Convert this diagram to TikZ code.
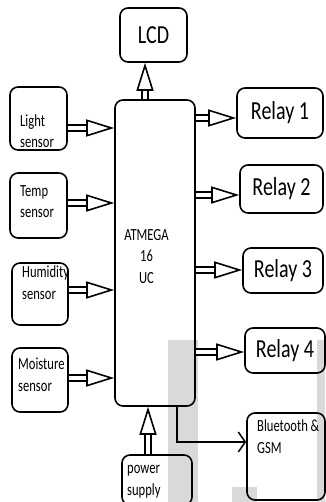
\documentclass[tikz,border=0pt]{standalone}
\usepackage{fontspec}
\setmainfont{Carlito}
\newfontfamily\smalltxt[FakeStretch=0.74]{Carlito}
\newfontfamily\bigtxt[FakeStretch=0.77]{Carlito}
\usetikzlibrary{arrows.meta}
\definecolor{scan}{RGB}{217,217,217}

\begin{document}
\begin{tikzpicture}[x=1pt, y=-1pt,
    box/.style={draw, line width=1.6pt, rounded corners=8pt},
    txt/.style={font=\smalltxt\fontsize{17}{21.5}\selectfont, align=left, inner sep=0pt, anchor=base west},
    big/.style={font=\bigtxt\fontsize{26}{30}\selectfont},
    dblarrow/.style={double, double distance=4pt, line width=1.6pt,
        -{Triangle[open, length=28pt, width=17pt, line width=1.6pt]}},
    link/.style={line width=1.5pt, -{Straight Barb[length=7pt, width=20pt]}}]
    \useasboundingbox (0,0) rectangle (325,502);
    % grey marks of the scan
    \fill[scan] (168,340) rectangle (198,502);
    \fill[scan] (317,340) rectangle (325,502);
    \fill[scan] (232,487) rectangle (257,502);

    \node[box, big, minimum width=67pt, minimum height=54pt] (lcd) at (153.5,35) {LCD};
    \node[box, minimum width=80pt, minimum height=306pt] (uc) at (155,253) {};
    \node[txt, align=center, anchor=base] (uctxt) at (146.5,283) {ATMEGA\\16\\UC};

    % sensors
    \node[box, minimum width=57pt, minimum height=63pt] (light) at (38.5,118.5) {};
    \node[txt] (lighttxt) at (20,148) {Light\\sensor};
    \node[box, minimum width=57pt, minimum height=65pt] (temp) at (38.5,205.5) {};
    \node[txt] (temptxt) at (20,218) {Temp\\sensor};
    \node[box, minimum width=56pt, minimum height=62pt] (humid) at (40,294) {};
    \node[txt] (humidtxt) at (22,299) {Humidity\\sensor};
    \node[box, minimum width=56pt, minimum height=64pt] (moist) at (40,380) {};
    \node[txt] (moisttxt) at (18,391) {Moisture\\sensor};

    % relays
    \node[box, big, minimum width=86pt, minimum height=50pt] (relay1) at (280,113) {Relay 1};
    \node[box, big, minimum width=83pt, minimum height=48pt] (relay2) at (281.5,189) {Relay 2};
    \node[box, big, minimum width=80pt, minimum height=45pt] (relay3) at (283,270.5) {Relay 3};
    \node[box, big, minimum width=80pt, minimum height=45pt] (relay4) at (285,350.5) {Relay 4};

    \node[box, minimum width=78pt, minimum height=87pt] (bt) at (286,456.5) {};
    \node[txt] (bttxt) at (257,453) {Bluetooth \&\\GSM};
    \node[box, minimum width=70pt, minimum height=50pt] (power) at (157,480) {};
    \node[txt] (powertxt) at (127,495) {power\\supply};

    % connections
    \foreach \s/\y in {light/128, temp/203, humid/290, moist/378}
        \draw[dblarrow] (\s.east |- 0,\y) -- (uc.west |- 0,\y);
    \foreach \r/\y in {relay1/118, relay2/195, relay3/270, relay4/352}
        \draw[dblarrow] (uc.east |- 0,\y) -- (\r.west |- 0,\y);
    \draw[dblarrow] (uc.north -| 145,0) -- (lcd.south -| 145,0);
    \draw[dblarrow] (power.north -| 148,0) -- (uc.south -| 148,0);
    \draw[link] (uc.south -| 177,0) |- (bt.west |- 0,442);
\end{tikzpicture}
\end{document}
